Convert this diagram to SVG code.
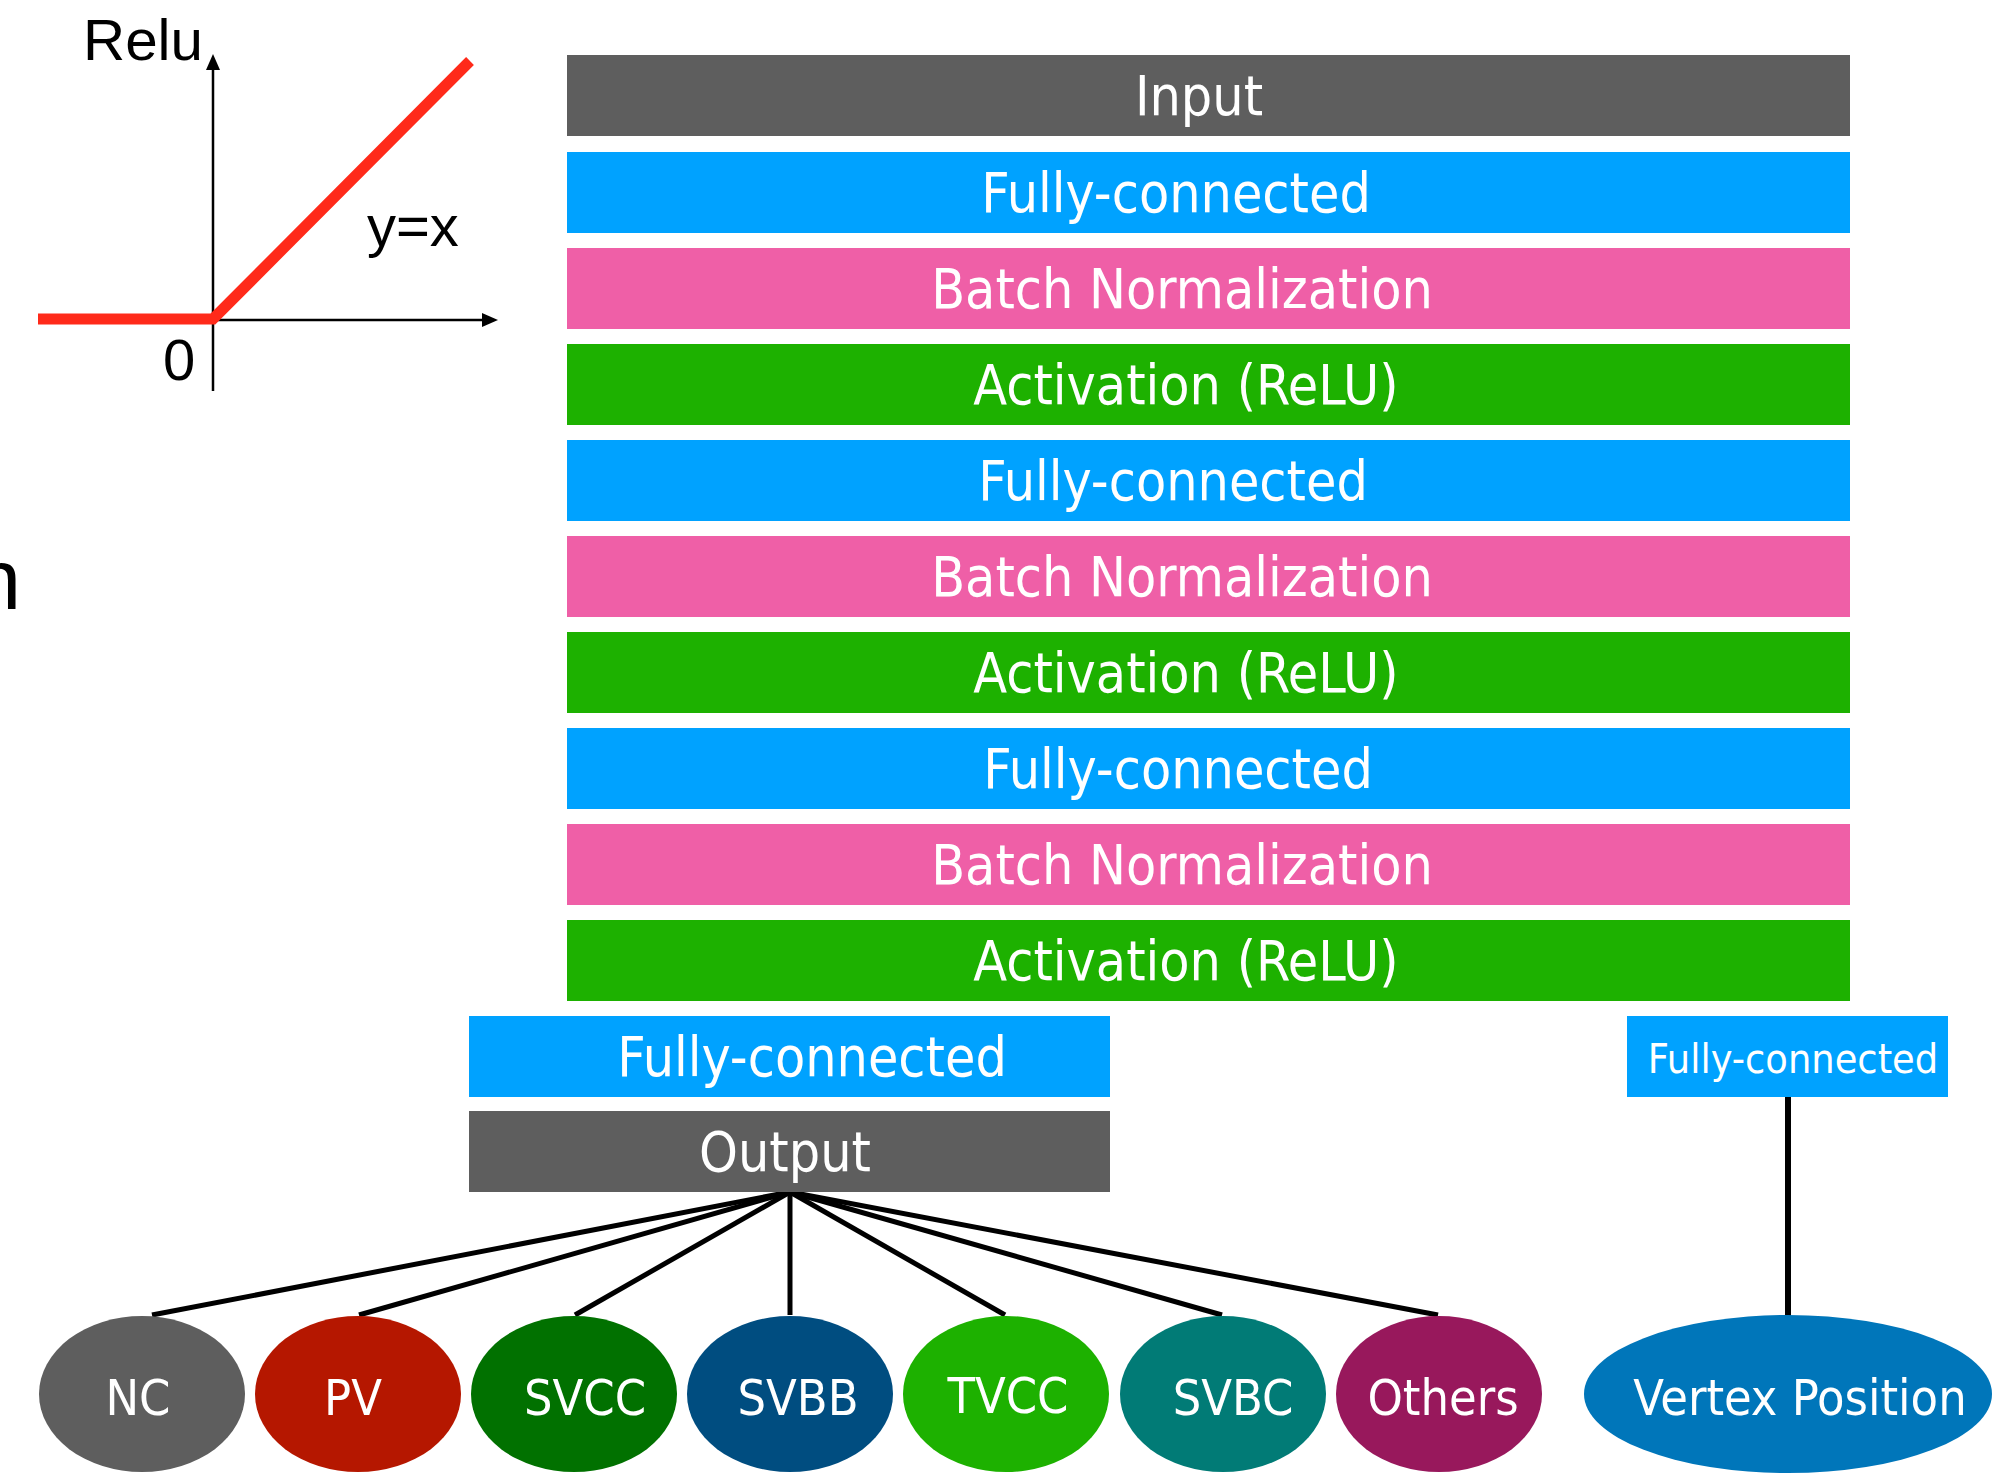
<svg xmlns="http://www.w3.org/2000/svg" width="2008" height="1473" viewBox="0 0 2008 1473">
<defs>
<style>
.lbl{font-family:"DejaVu Sans Condensed","DejaVu Sans",sans-serif;font-stretch:condensed;fill:#ffffff;text-anchor:middle}
.big{font-size:55px}
.med{font-size:50px}
.sm{font-size:41px}
.gray{fill:#5e5e5e}
.fc{fill:#00a2ff}
.bn{fill:#ef5fa7}
.act{fill:#1db100}
.plot{font-family:"Liberation Sans",Arial,sans-serif;font-size:58px;fill:#000000}
.conn{stroke:#000000;stroke-width:5;fill:none}
.axis{stroke:#000000;stroke-width:2.5;fill:none}
</style>
<marker id="arr" viewBox="0 0 10 10" refX="10" refY="5" markerWidth="6" markerHeight="6" markerUnits="userSpaceOnUse" orient="auto">
<path d="M0,0 L10,5 L0,10 z" fill="#000000"/>
</marker>
</defs>
<rect width="2008" height="1473" fill="#ffffff"/>

<g id="relu-plot">
<text class="plot" x="83" y="60" textLength="120" lengthAdjust="spacingAndGlyphs">Relu</text>
<line class="axis" x1="213" y1="391" x2="213" y2="70"/>
<path d="M206,70 L213,54 L220,70 z" fill="#000000"/>
<line class="axis" x1="205" y1="320" x2="482" y2="320"/>
<path d="M482,313 L498,320 L482,327 z" fill="#000000"/>
<polyline points="38,319 213,319 470,61" fill="none" stroke="#ff2a1a" stroke-width="11"/>
<text class="plot" x="367" y="246">y=x</text>
<text class="plot" x="163" y="380">0</text>
</g>

<text x="21" y="609" font-family="Liberation Sans, Arial, sans-serif" font-size="85" fill="#000000" text-anchor="end">n</text>

<g id="connectors">
<line class="conn" x1="790" y1="1192" x2="152" y2="1315"/>
<line class="conn" x1="790" y1="1192" x2="359" y2="1315"/>
<line class="conn" x1="790" y1="1192" x2="575" y2="1315"/>
<line class="conn" x1="790" y1="1192" x2="790" y2="1315"/>
<line class="conn" x1="790" y1="1192" x2="1005" y2="1315"/>
<line class="conn" x1="790" y1="1192" x2="1222" y2="1315"/>
<line class="conn" x1="790" y1="1192" x2="1438" y2="1315"/>
<line x1="1788" y1="1097" x2="1788" y2="1316" stroke="#000000" stroke-width="6"/>
</g>

<g id="input"><rect class="gray" x="567" y="55" width="1283" height="81"/><text class="lbl big" x="1199" y="115">Input</text></g>
<g id="fc1"><rect class="fc" x="567" y="152" width="1283" height="81"/><text class="lbl big" x="1176" y="212">Fully-connected</text></g>
<g id="bn1"><rect class="bn" x="567" y="248" width="1283" height="81"/><text class="lbl big" x="1182" y="308">Batch Normalization</text></g>
<g id="act1"><rect class="act" x="567" y="344" width="1283" height="81"/><text class="lbl big" x="1186" y="404">Activation (ReLU)</text></g>
<g id="fc2"><rect class="fc" x="567" y="440" width="1283" height="81"/><text class="lbl big" x="1173" y="500">Fully-connected</text></g>
<g id="bn2"><rect class="bn" x="567" y="536" width="1283" height="81"/><text class="lbl big" x="1182" y="596">Batch Normalization</text></g>
<g id="act2"><rect class="act" x="567" y="632" width="1283" height="81"/><text class="lbl big" x="1186" y="692">Activation (ReLU)</text></g>
<g id="fc3"><rect class="fc" x="567" y="728" width="1283" height="81"/><text class="lbl big" x="1178" y="788">Fully-connected</text></g>
<g id="bn3"><rect class="bn" x="567" y="824" width="1283" height="81"/><text class="lbl big" x="1182" y="884">Batch Normalization</text></g>
<g id="act3"><rect class="act" x="567" y="920" width="1283" height="81"/><text class="lbl big" x="1186" y="980">Activation (ReLU)</text></g>

<g id="fc-out"><rect class="fc" x="469" y="1016" width="641" height="81"/><text class="lbl big" x="812" y="1076">Fully-connected</text></g>
<g id="output"><rect class="gray" x="469" y="1111" width="641" height="81"/><text class="lbl big" x="785" y="1171">Output</text></g>
<g id="fc-vertex"><rect class="fc" x="1627" y="1016" width="321" height="81"/><text class="lbl sm" x="1793" y="1073">Fully-connected</text></g>

<g id="nc"><ellipse cx="142" cy="1394" rx="103" ry="78" fill="#5e5e5e"/><text class="lbl med" x="138" y="1415">NC</text></g>
<g id="pv"><ellipse cx="358" cy="1394" rx="103" ry="78" fill="#b51700"/><text class="lbl med" x="353" y="1415">PV</text></g>
<g id="svcc"><ellipse cx="574" cy="1394" rx="103" ry="78" fill="#017100"/><text class="lbl med" x="585" y="1415">SVCC</text></g>
<g id="svbb"><ellipse cx="790" cy="1394" rx="103" ry="78" fill="#004d80"/><text class="lbl med" x="798" y="1415">SVBB</text></g>
<g id="tvcc"><ellipse cx="1006" cy="1394" rx="103" ry="78" fill="#1db100"/><text class="lbl med" x="1008" y="1413">TVCC</text></g>
<g id="svbc"><ellipse cx="1223" cy="1394" rx="103" ry="78" fill="#017b76"/><text class="lbl med" x="1233" y="1415">SVBC</text></g>
<g id="others"><ellipse cx="1439" cy="1394" rx="103" ry="78" fill="#98185c"/><text class="lbl med" x="1443" y="1415">Others</text></g>
<g id="vertex"><ellipse cx="1788" cy="1394" rx="204" ry="79" fill="#0076ba"/><text class="lbl med" x="1800" y="1415">Vertex Position</text></g>
</svg>
